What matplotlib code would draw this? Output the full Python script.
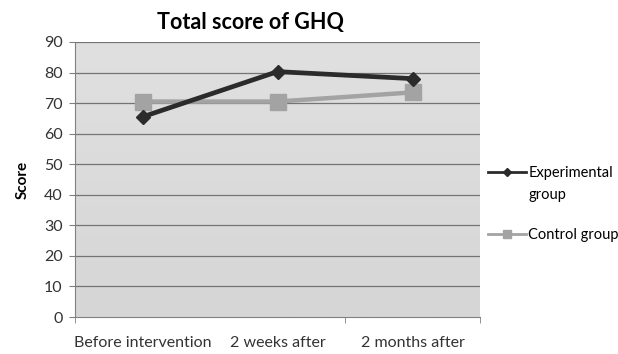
import numpy as np
import matplotlib.pyplot as plt
from matplotlib.colors import LinearSegmentedColormap
from matplotlib.lines import Line2D

# GHQ total score at three time points
stages = ['Before intervention', '2 weeks after', '2 months after']
experimental = [65.5, 80.3, 78.0]
control = [70.5, 70.5, 73.5]

plt.rcParams['font.family'] = ['Lato', 'DejaVu Sans']

fig = plt.figure(figsize=(6.18, 3.54), dpi=100)
ax = fig.add_axes([0.1214, 0.1045, 0.6553, 0.7769])

x = np.arange(len(stages))

# soft gray gradient for the plot area
grad = np.linspace(0, 1, 256).reshape(-1, 1)
ax.imshow(grad, extent=[-0.5, 2.5, 0, 90], aspect='auto', origin='lower',
          cmap=LinearSegmentedColormap.from_list('bg', ['#d6d6d6', '#e0e0e0']),
          zorder=0)

for y in range(10, 100, 10):
    ax.axhline(y, color='#747474', lw=0.9, zorder=1)

ax.plot(x, experimental, color='#2b2b2b', lw=3.4, marker='D', ms=7,
        zorder=4)
ax.plot(x, control, color='#a3a3a3', lw=3.2, marker='s', ms=11,
        zorder=3)

ax.set_xlim(-0.5, 2.5)
ax.set_ylim(0, 90)
ax.set_yticks(range(0, 100, 10))
ax.set_xticks(x)
ax.set_xticklabels(stages, fontsize=11.5)
ax.set_xticks([-0.5, 1.5, 2.5], minor=True)
ax.tick_params(axis='x', which='major', length=0, pad=14)
ax.tick_params(axis='x', which='minor', length=4, color='#808080')
ax.tick_params(axis='y', length=4, color='#808080', labelsize=11.5, pad=5,
               labelcolor='#333333')
ax.tick_params(axis='x', labelcolor='#333333')

for side in ['top', 'right']:
    ax.spines[side].set_visible(False)
for side in ['left', 'bottom']:
    ax.spines[side].set_color('#808080')

ax.set_ylabel('Score', fontsize=11, fontweight='bold', labelpad=10)
fig.text(250 / 618, 1 - 22 / 354, 'Total score of GHQ', fontsize=15.5,
         fontweight='bold', ha='center', va='center')

handles = [
    Line2D([], [], color='#2b2b2b', lw=2, marker='D', ms=4),
    Line2D([], [], color='#a3a3a3', lw=2, marker='s', ms=6),
]
leg = fig.legend(handles, ['Experimental', 'Control group'],
                 loc='upper left', bbox_to_anchor=(0.789, 1 - 166 / 354),
                 frameon=False, fontsize=10.5, handlelength=2.6,
                 labelspacing=3.3, handletextpad=0.2, borderpad=0,
                 borderaxespad=0)

# second line of the first legend label, placed under "Experimental"
fig.canvas.draw()
bb = leg.get_texts()[0].get_window_extent()
fig.text(bb.x0 / fig.bbox.width, (bb.y0 - 8) / fig.bbox.height, 'group',
         fontsize=10.5, ha='left', va='top')

fig.savefig('out.png', dpi=100)
